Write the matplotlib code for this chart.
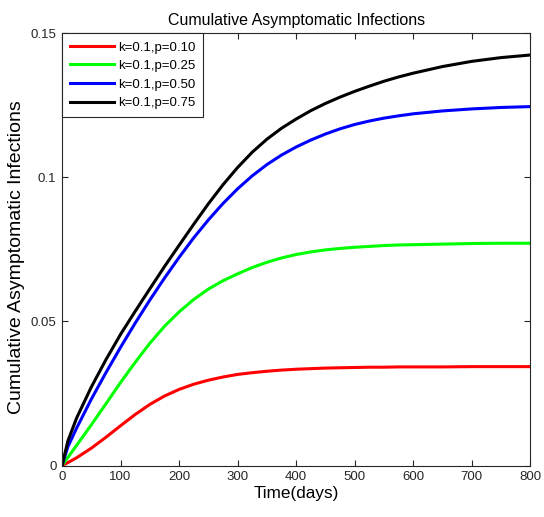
import matplotlib.pyplot as plt

plt.rcParams['font.family'] = ['Liberation Sans', 'DejaVu Sans']

# values
t = [0, 10, 25, 50, 75, 100, 125, 150, 175, 200, 225, 250, 275, 300, 325,
     350, 375, 400, 425, 450, 475, 500, 525, 550, 575, 600, 650, 700, 750, 800]
p010 = [0, 0.0010, 0.0027, 0.0060, 0.0098, 0.0138, 0.0177, 0.0212, 0.0241,
        0.0264, 0.0282, 0.0296, 0.0307, 0.0316, 0.0322, 0.0327, 0.0331,
        0.0334, 0.0336, 0.0338, 0.0339, 0.0340, 0.0341, 0.0341, 0.0342,
        0.0342, 0.0342, 0.0343, 0.0343, 0.0343]
p025 = [0, 0.0028, 0.0070, 0.0141, 0.0214, 0.0288, 0.0358, 0.0424, 0.0483,
        0.0533, 0.0576, 0.0612, 0.0641, 0.0665, 0.0687, 0.0705, 0.0720,
        0.0732, 0.0741, 0.0748, 0.0753, 0.0757, 0.0760, 0.0763, 0.0765,
        0.0766, 0.0768, 0.0770, 0.0771, 0.0771]
p050 = [0, 0.0065, 0.0130, 0.0230, 0.0322, 0.0410, 0.0494, 0.0574, 0.0650,
        0.0722, 0.0790, 0.0852, 0.0909, 0.0960, 0.1005, 0.1044, 0.1077,
        0.1105, 0.1129, 0.1150, 0.1168, 0.1183, 0.1195, 0.1205, 0.1213,
        0.1220, 0.1230, 0.1237, 0.1242, 0.1245]
p075 = [0, 0.0085, 0.0165, 0.0272, 0.0367, 0.0455, 0.0535, 0.0613, 0.0690,
        0.0764, 0.0837, 0.0908, 0.0974, 0.1034, 0.1087, 0.1132, 0.1170,
        0.1202, 0.1231, 0.1256, 0.1278, 0.1298, 0.1316, 0.1333, 0.1348,
        0.1361, 0.1384, 0.1402, 0.1415, 0.1424]

labels = ['k=0.1,p=0.10', 'k=0.1,p=0.25', 'k=0.1,p=0.50', 'k=0.1,p=0.75']
colors = ['#ff0000', '#00ff00', '#0000ff', '#000000']
xticks = [0, 100, 200, 300, 400, 500, 600, 700, 800]
yticks = [0, 0.05, 0.1, 0.15]
ytick_labels = ['0', '0.05', '0.1', '0.15']

fig = plt.figure(figsize=(5.44, 5.17), dpi=100)
ax = fig.add_axes([0.114, 0.0996, 0.861, 0.8364])

for y, c, lab in zip([p010, p025, p050, p075], colors, labels):
    ax.plot(t, y, color=c, lw=2.2, label=lab, solid_joinstyle='round')

ax.set_xlim(0, 800)
ax.set_ylim(0, 0.15)
ax.set_xticks(xticks)
ax.set_yticks(yticks)
ax.set_yticklabels(ytick_labels)
ax.tick_params(direction='in', length=4, top=True, right=True,
               labelsize=9.5, colors='#262626', pad=4)
for s in ax.spines.values():
    s.set_color('#262626')
    s.set_linewidth(0.8)

ax.set_title('Cumulative Asymptomatic Infections', fontsize=11.5, pad=6)
ax.set_xlabel('Time(days)', fontsize=12.3, labelpad=2)
ax.set_ylabel('Cumulative Asymptomatic Infections', fontsize=14)
ax.yaxis.set_label_coords(-0.079, 0.481)

leg = ax.legend(loc='upper left', borderaxespad=0, fontsize=9.5,
                fancybox=False, edgecolor='#262626', framealpha=1,
                handlelength=3.3, handletextpad=0.3, labelspacing=0.48,
                borderpad=0.62)
leg.get_frame().set_linewidth(0.8)

fig.savefig('out.png', dpi=100)
